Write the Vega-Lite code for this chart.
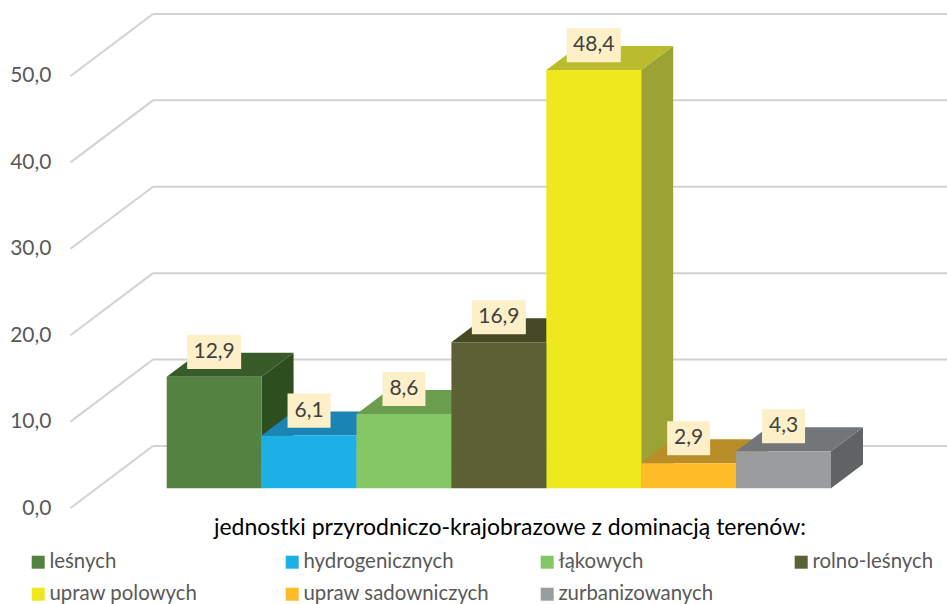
{
"$schema":"https://vega.github.io/schema/vega-lite/v6.json",
"width":947,"height":604,"padding":0,"autosize":{"type":"none"},
"background":"white",
"config":{"view":{"stroke":null},"font":"Lato","legend":{"title":null,"orient":"none","direction":"vertical","symbolType":"square","symbolSize":169,"symbolStrokeWidth":0,"labelFont":"Lato","labelFontSize":20.4,"labelColor":"#595959","labelOffset":1,"labelLimit":300,"rowPadding":11}},
"data":{"values":[
{"teren":"leśnych","wartosc":12.9},
{"teren":"hydrogenicznych","wartosc":6.1},
{"teren":"łąkowych","wartosc":8.6},
{"teren":"rolno-leśnych","wartosc":16.9},
{"teren":"upraw polowych","wartosc":48.4},
{"teren":"upraw sadowniczych","wartosc":2.9},
{"teren":"zurbanizowanych","wartosc":4.3}
]},
"transform":[
{"window":[{"op":"row_number","as":"n"}]},
{"calculate":"datum.n-1","as":"i"},
{"calculate":"datum.i+1","as":"i2"},
{"calculate":"2.28","as":"baza"},
{"calculate":"datum.wartosc+2.28","as":"wierzch"},
{"calculate":"replace(format(datum.wartosc,'.1f'),'.',',')","as":"etykieta"}
],
"resolve":{"scale":{"color":"independent"}},
"layer":[
{"data":{"values":[{"v":0},{"v":10},{"v":20},{"v":30},{"v":40},{"v":50}]},
 "transform":[{"calculate":"datum.v+7.18","as":"tyl"}],
 "mark":{"type":"rule","color":"#D2D2D2","strokeWidth":2},
 "encoding":{
  "x":{"datum":-0.1444,"type":"quantitative","scale":{"domain":[-1.7566,8.2223],"nice":false,"zero":false},
   "axis":{"title":"jednostki przyrodniczo-krajobrazowe z dominacją terenów:","labels":false,"ticks":false,"domain":false,"grid":false,"titleX":509.5,"titleY":-88,"titleAlign":"center","titleFont":"Lato","titleFontSize":23,"titleFontWeight":"normal","titleColor":"#000000"}},
  "x2":{"datum":8.2223},
  "y":{"field":"tyl","type":"quantitative","scale":{"domain":[-11.111,58.796],"nice":false,"zero":false},
   "axis":{"title":null,"values":[0,10,20,30,40,50],"labelExpr":"replace(format(datum.value,'.1f'),'.',',')","ticks":false,"domain":false,"grid":false,"offset":-51,"labelPadding":0,"labelFont":"Lato","labelFontSize":21,"labelColor":"#595959"}}
 }},
{"data":{"values":[{"v":0},{"v":10},{"v":20},{"v":30},{"v":40},{"v":50}]},
 "transform":[{"calculate":"datum.v+7.18","as":"tyl"}],
 "mark":{"type":"rule","color":"#D2D2D2","strokeWidth":2},
 "encoding":{
  "x":{"datum":-1.0137,"type":"quantitative","scale":{"domain":[-1.7566,8.2223],"nice":false,"zero":false}},
  "x2":{"datum":-0.1444},
  "y":{"field":"v","type":"quantitative","scale":{"domain":[-11.111,58.796],"nice":false,"zero":false}},
  "y2":{"field":"tyl"}
 }},
{"transform":[{"calculate":"[0,1]","as":"t"},{"flatten":["t"]},
  {"calculate":"datum.i2+0.337*datum.t","as":"xb"},
  {"calculate":"datum.wierzch+2.78*datum.t","as":"yg"},
  {"calculate":"datum.baza+2.78*datum.t","as":"yd"}],
 "mark":{"type":"area","orient":"vertical","opacity":1},
 "encoding":{
  "x":{"field":"xb","type":"quantitative","scale":{"domain":[-1.7566,8.2223],"nice":false,"zero":false}},
  "y":{"field":"yg","type":"quantitative","scale":{"domain":[-11.111,58.796],"nice":false,"zero":false}},
  "y2":{"field":"yd"},
  "color":{"field":"teren","type":"nominal","legend":null,"scale":{"domain":["leśnych","hydrogenicznych","łąkowych","rolno-leśnych","upraw polowych","upraw sadowniczych","zurbanizowanych"],"range":["#2D4F20","#146F96","#547F3F","#3A3C20","#9DA234","#A07820","#606363"]}}
 }},
{"transform":[{"calculate":"[0,1]","as":"t"},{"flatten":["t"]},
  {"calculate":"datum.i+0.337*datum.t","as":"xl"},
  {"calculate":"datum.i2+0.337*datum.t","as":"xp"},
  {"calculate":"datum.wierzch+2.78*datum.t","as":"yg"}],
 "mark":{"type":"area","orient":"horizontal","opacity":1},
 "encoding":{
  "x":{"field":"xl","type":"quantitative","scale":{"domain":[-1.7566,8.2223],"nice":false,"zero":false}},
  "x2":{"field":"xp"},
  "y":{"field":"yg","type":"quantitative","scale":{"domain":[-11.111,58.796],"nice":false,"zero":false}},
  "color":{"field":"teren","type":"nominal","legend":null,"scale":{"domain":["leśnych","hydrogenicznych","łąkowych","rolno-leśnych","upraw polowych","upraw sadowniczych","zurbanizowanych"],"range":["#385C29","#1A85B5","#6B9E4C","#454824","#BABC2E","#B98D28","#737679"]}}
 }},
{"transform":[{"filter":"datum.i%4==0"}],
 "mark":{"type":"rect"},
 "encoding":{
  "x":{"field":"i","type":"quantitative","scale":{"domain":[-1.7566,8.2223],"nice":false,"zero":false}},
  "x2":{"field":"i2"},
  "y":{"field":"wierzch","type":"quantitative","scale":{"domain":[-11.111,58.796],"nice":false,"zero":false}},
  "y2":{"field":"baza"},
  "color":{"field":"teren","type":"nominal","scale":{"domain":["leśnych","upraw polowych"],"range":["#548240","#EEE91F"]},
   "legend":{"legendX":28,"legendY":552}}
 }},
{"transform":[{"filter":"datum.i%4==1"}],
 "mark":{"type":"rect"},
 "encoding":{
  "x":{"field":"i","type":"quantitative","scale":{"domain":[-1.7566,8.2223],"nice":false,"zero":false}},
  "x2":{"field":"i2"},
  "y":{"field":"wierzch","type":"quantitative","scale":{"domain":[-11.111,58.796],"nice":false,"zero":false}},
  "y2":{"field":"baza"},
  "color":{"field":"teren","type":"nominal","scale":{"domain":["hydrogenicznych","upraw sadowniczych"],"range":["#1CB0E6","#FFBB28"]},
   "legend":{"legendX":282,"legendY":552}}
 }},
{"transform":[{"filter":"datum.i%4==2"}],
 "mark":{"type":"rect"},
 "encoding":{
  "x":{"field":"i","type":"quantitative","scale":{"domain":[-1.7566,8.2223],"nice":false,"zero":false}},
  "x2":{"field":"i2"},
  "y":{"field":"wierzch","type":"quantitative","scale":{"domain":[-11.111,58.796],"nice":false,"zero":false}},
  "y2":{"field":"baza"},
  "color":{"field":"teren","type":"nominal","scale":{"domain":["łąkowych","zurbanizowanych"],"range":["#86C765","#9A9D9D"]},
   "legend":{"legendX":537,"legendY":552}}
 }},
{"transform":[{"filter":"datum.i%4==3"}],
 "mark":{"type":"rect"},
 "encoding":{
  "x":{"field":"i","type":"quantitative","scale":{"domain":[-1.7566,8.2223],"nice":false,"zero":false}},
  "x2":{"field":"i2"},
  "y":{"field":"wierzch","type":"quantitative","scale":{"domain":[-11.111,58.796],"nice":false,"zero":false}},
  "y2":{"field":"baza"},
  "color":{"field":"teren","type":"nominal","scale":{"domain":["rolno-leśnych"],"range":["#5C6035"]},
   "legend":{"legendX":791,"legendY":552}}
 }},
{"transform":[{"calculate":"datum.wartosc>=10?0.2845:0.2265","as":"pol"},
  {"calculate":"(datum.i+datum.i2)/2-datum.pol","as":"xl"},
  {"calculate":"(datum.i+datum.i2)/2+datum.pol","as":"xp"},
  {"calculate":"datum.wierzch+2.89-1.97","as":"yd"},
  {"calculate":"datum.wierzch+2.89+1.97","as":"yg"}],
 "mark":{"type":"rect","color":"#FDF0C8"},
 "encoding":{
  "x":{"field":"xl","type":"quantitative","scale":{"domain":[-1.7566,8.2223],"nice":false,"zero":false}},
  "x2":{"field":"xp"},
  "y":{"field":"yd","type":"quantitative","scale":{"domain":[-11.111,58.796],"nice":false,"zero":false}},
  "y2":{"field":"yg"}
 }},
{"transform":[{"calculate":"(datum.i+datum.i2)/2","as":"xs"},{"calculate":"datum.wierzch+2.89","as":"ys"}],
 "mark":{"type":"text","font":"Lato","fontSize":21,"color":"#404040","align":"center","baseline":"middle"},
 "encoding":{
  "x":{"field":"xs","type":"quantitative","scale":{"domain":[-1.7566,8.2223],"nice":false,"zero":false}},
  "y":{"field":"ys","type":"quantitative","scale":{"domain":[-11.111,58.796],"nice":false,"zero":false}},
  "text":{"field":"etykieta","type":"nominal"}
 }}
]
}
